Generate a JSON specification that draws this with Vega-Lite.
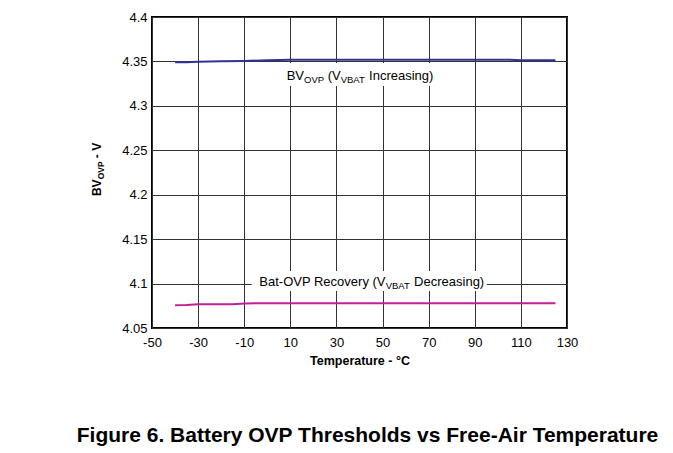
{
  "$schema": "https://vega.github.io/schema/vega-lite/v6.json",
  "width": 415,
  "height": 311,
  "autosize": {"type": "none"},
  "padding": {"left": 152, "top": 17, "right": 106, "bottom": 125},
  "background": "white",
  "title": {"text": "Figure 6. Battery OVP Thresholds vs Free-Air Temperature", "orient": "bottom", "anchor": "middle", "font": "Liberation Sans", "fontSize": 21, "fontWeight": "bold", "color": "#000", "offset": 58, "dx": 8},
  "config": {
    "view": {"stroke": "#000", "strokeWidth": 2},
    "axis": {"labelFont": "Liberation Sans", "labelFontSize": 13, "labelColor": "#000", "titleFont": "Liberation Sans", "titleColor": "#000", "gridColor": "#333", "gridOpacity": 1, "gridWidth": 1, "domain": false, "ticks": false, "tickSize": 0, "labelOverlap": false, "labelFlush": false, "labelBound": false}
  },
  "data": {"values": [
    {"series": "BV_OVP", "temp": -40, "v": 4.349},
    {"series": "BV_OVP", "temp": -35, "v": 4.349},
    {"series": "BV_OVP", "temp": -30, "v": 4.3497},
    {"series": "BV_OVP", "temp": -20, "v": 4.3502},
    {"series": "BV_OVP", "temp": -10, "v": 4.3506},
    {"series": "BV_OVP", "temp": 0, "v": 4.3513},
    {"series": "BV_OVP", "temp": 10, "v": 4.3518},
    {"series": "BV_OVP", "temp": 30, "v": 4.3518},
    {"series": "BV_OVP", "temp": 50, "v": 4.3518},
    {"series": "BV_OVP", "temp": 70, "v": 4.3518},
    {"series": "BV_OVP", "temp": 90, "v": 4.3518},
    {"series": "BV_OVP", "temp": 105, "v": 4.3518},
    {"series": "BV_OVP", "temp": 110, "v": 4.3513},
    {"series": "BV_OVP", "temp": 125, "v": 4.3513},
    {"series": "Recovery", "temp": -40, "v": 4.0757},
    {"series": "Recovery", "temp": -35, "v": 4.0758},
    {"series": "Recovery", "temp": -30, "v": 4.0768},
    {"series": "Recovery", "temp": -15, "v": 4.0768},
    {"series": "Recovery", "temp": -10, "v": 4.0777},
    {"series": "Recovery", "temp": 0, "v": 4.0778},
    {"series": "Recovery", "temp": 30, "v": 4.0778},
    {"series": "Recovery", "temp": 60, "v": 4.0778},
    {"series": "Recovery", "temp": 90, "v": 4.0778},
    {"series": "Recovery", "temp": 125, "v": 4.0778}
  ]},
  "layer": [
    {
      "mark": {"type": "line", "strokeWidth": 2},
      "encoding": {
        "x": {"field": "temp", "type": "quantitative", "scale": {"domain": [-50, 130], "nice": false, "zero": false},
              "axis": {"values": [-50, -30, -10, 10, 30, 50, 70, 90, 110, 130], "labelExpr": "'' + datum.value", "grid": true, "labelPadding": 8, "title": "Temperature - °C", "titleFontSize": 12.5, "titleFontWeight": "bold", "titlePadding": 5}},
        "y": {"field": "v", "type": "quantitative", "scale": {"domain": [4.05, 4.4], "nice": false, "zero": false},
              "axis": {"values": [4.05, 4.1, 4.15, 4.2, 4.25, 4.3, 4.35, 4.4], "format": ".3~r", "grid": true, "labelPadding": 5, "title": null}},
        "color": {"field": "series", "type": "nominal", "scale": {"domain": ["BV_OVP", "Recovery"], "range": ["#2f3396", "#c0209a"]}, "legend": null}
      }
    },
    {
      "data": {"values": [{}]},
      "mark": {"type": "rect", "color": "white"},
      "encoding": {"x": {"datum": 6.38, "type": "quantitative"}, "x2": {"datum": 74.04}, "y": {"datum": 4.3482, "type": "quantitative"}, "y2": {"datum": 4.3223}}
    },
    {
      "data": {"values": [{}]},
      "mark": {"type": "rect", "color": "white"},
      "encoding": {"x": {"datum": -6.76, "type": "quantitative"}, "x2": {"datum": 95.17}, "y": {"datum": 4.1141, "type": "quantitative"}, "y2": {"datum": 4.0916}}
    },
    {
      "data": {"values": [{}]},
      "mark": {"type": "text", "font": "Liberation Sans", "fontSize": 13, "color": "#000", "align": "left", "baseline": "alphabetic", "dx": 0},
      "encoding": {"x": {"datum": 8.42, "type": "quantitative"}, "y": {"datum": 4.3291, "type": "quantitative"}, "text": {"value": "BV"}}
    },
    {
      "data": {"values": [{}]},
      "mark": {"type": "text", "font": "Liberation Sans", "fontSize": 9.5, "color": "#000", "align": "left", "baseline": "alphabetic", "dx": 17.3, "dy": 3.5},
      "encoding": {"x": {"datum": 8.42, "type": "quantitative"}, "y": {"datum": 4.3291, "type": "quantitative"}, "text": {"value": "OVP"}}
    },
    {
      "data": {"values": [{}]},
      "mark": {"type": "text", "font": "Liberation Sans", "fontSize": 13, "color": "#000", "align": "left", "baseline": "alphabetic", "dx": 41.0},
      "encoding": {"x": {"datum": 8.42, "type": "quantitative"}, "y": {"datum": 4.3291, "type": "quantitative"}, "text": {"value": "(V"}}
    },
    {
      "data": {"values": [{}]},
      "mark": {"type": "text", "font": "Liberation Sans", "fontSize": 9.5, "color": "#000", "align": "left", "baseline": "alphabetic", "dx": 54.0, "dy": 3.5},
      "encoding": {"x": {"datum": 8.42, "type": "quantitative"}, "y": {"datum": 4.3291, "type": "quantitative"}, "text": {"value": "VBAT"}}
    },
    {
      "data": {"values": [{}]},
      "mark": {"type": "text", "font": "Liberation Sans", "fontSize": 13, "color": "#000", "align": "left", "baseline": "alphabetic", "dx": 82.4},
      "encoding": {"x": {"datum": 8.42, "type": "quantitative"}, "y": {"datum": 4.3291, "type": "quantitative"}, "text": {"value": "Increasing)"}}
    },
    {
      "data": {"values": [{}]},
      "mark": {"type": "text", "font": "Liberation Sans", "fontSize": 13, "color": "#000", "align": "left", "baseline": "alphabetic", "dx": 0},
      "encoding": {"x": {"datum": -3.46, "type": "quantitative"}, "y": {"datum": 4.0976, "type": "quantitative"}, "text": {"value": "Bat-OVP Recovery (V"}}
    },
    {
      "data": {"values": [{}]},
      "mark": {"type": "text", "font": "Liberation Sans", "fontSize": 9.5, "color": "#000", "align": "left", "baseline": "alphabetic", "dx": 126.4, "dy": 3.5},
      "encoding": {"x": {"datum": -3.46, "type": "quantitative"}, "y": {"datum": 4.0976, "type": "quantitative"}, "text": {"value": "VBAT"}}
    },
    {
      "data": {"values": [{}]},
      "mark": {"type": "text", "font": "Liberation Sans", "fontSize": 13, "color": "#000", "align": "left", "baseline": "alphabetic", "dx": 154.8},
      "encoding": {"x": {"datum": -3.46, "type": "quantitative"}, "y": {"datum": 4.0976, "type": "quantitative"}, "text": {"value": "Decreasing)"}}
    },
    {
      "data": {"values": [{}]},
      "mark": {"type": "text", "font": "Liberation Sans", "fontSize": 12, "fontWeight": "bold", "color": "#000", "align": "left", "baseline": "alphabetic", "angle": 270, "dx": 0},
      "encoding": {"x": {"datum": -72.12, "type": "quantitative"}, "y": {"datum": 4.1985, "type": "quantitative"}, "text": {"value": "BV"}}
    },
    {
      "data": {"values": [{}]},
      "mark": {"type": "text", "font": "Liberation Sans", "fontSize": 8.5, "fontWeight": "bold", "color": "#000", "align": "left", "baseline": "alphabetic", "angle": 270, "dx": 16.7, "dy": 3},
      "encoding": {"x": {"datum": -72.12, "type": "quantitative"}, "y": {"datum": 4.1985, "type": "quantitative"}, "text": {"value": "OVP"}}
    },
    {
      "data": {"values": [{}]},
      "mark": {"type": "text", "font": "Liberation Sans", "fontSize": 12, "fontWeight": "bold", "color": "#000", "align": "left", "baseline": "alphabetic", "angle": 270, "dx": 37.9},
      "encoding": {"x": {"datum": -72.12, "type": "quantitative"}, "y": {"datum": 4.1985, "type": "quantitative"}, "text": {"value": "- V"}}
    }
  ]
}
